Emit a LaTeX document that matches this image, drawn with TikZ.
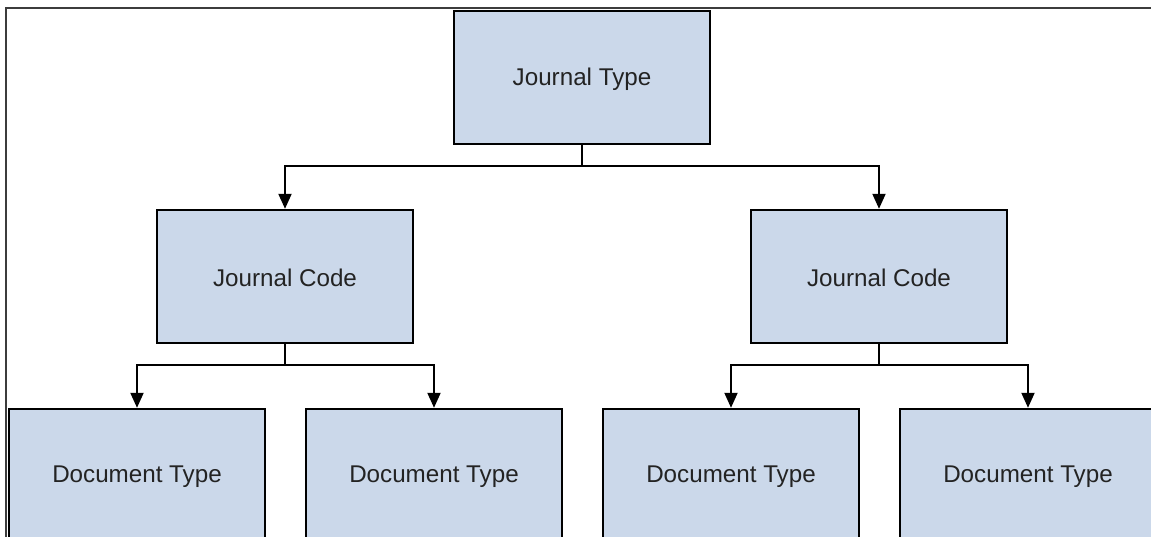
\documentclass[tikz,border=0pt]{standalone}
\usepackage{fontspec}
\setmainfont{Liberation Sans}
\usetikzlibrary{arrows.meta}
\definecolor{boxfill}{RGB}{203,216,234}
\definecolor{framegray}{RGB}{60,60,60}
\definecolor{textgray}{RGB}{35,35,35}
\begin{document}
\begin{tikzpicture}[x=1pt,y=-1pt,
  box/.style={draw=black,fill=boxfill,line width=2.4pt,minimum width=256pt,minimum height=133pt,inner sep=0pt,text=textgray,font=\fontsize{24.2}{28}\selectfont},
  lbl/.style={text=textgray,font=\fontsize{24.2}{28}\selectfont,inner sep=0pt},
  arr/.style={draw=black,line width=2pt,-{Triangle[width=13pt,length=15pt]}}]
\useasboundingbox (0,0) rectangle (1151,537);
\clip (0,0) rectangle (1151,537);
\fill[white] (0,0) rectangle (1151,537);
\draw[framegray,line width=1.6pt] (6,537) -- (6,8) -- (1160,8);
\node[box] (jt) at (582,77.5) {};
\node[box] (jcl) at (285,276.5) {};
\node[box] (jcr) at (879,276.5) {};
\node[box] (d1) at (137,475.5) {};
\node[box] (d2) at (434,475.5) {};
\node[box] (d3) at (731,475.5) {};
\node[box] (d4) at (1028,475.5) {};
\node[lbl] (tjt) at ([yshift=-2pt]jt.center) {Journal Type};
\node[lbl] (tjcl) at ([yshift=-1pt]jcl.center) {Journal Code};
\node[lbl] (tjcr) at ([yshift=-1pt]jcr.center) {Journal Code};
\node[lbl] (td1) at ([yshift=-1pt]d1.center) {Document Type};
\node[lbl] (td2) at ([yshift=-1pt]d2.center) {Document Type};
\node[lbl] (td3) at ([yshift=-1pt]d3.center) {Document Type};
\node[lbl] (td4) at ([yshift=-1pt]d4.center) {Document Type};
\draw[arr] (jt.south) -- ++(0,21) -| (jcl.north);
\draw[arr] (jt.south) -- ++(0,21) -| (jcr.north);
\draw[arr] (jcl.south) -- ++(0,21) -| (d1.north);
\draw[arr] (jcl.south) -- ++(0,21) -| (d2.north);
\draw[arr] (jcr.south) -- ++(0,21) -| (d3.north);
\draw[arr] (jcr.south) -- ++(0,21) -| (d4.north);
\end{tikzpicture}
\end{document}
